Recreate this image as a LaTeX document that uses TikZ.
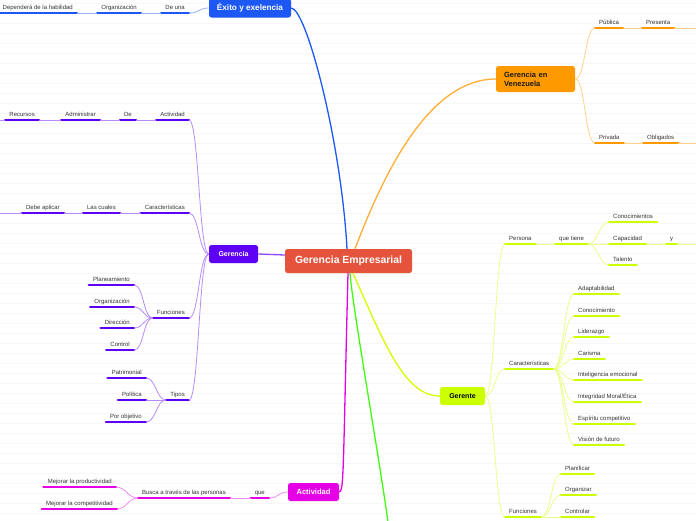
\documentclass[tikz,border=0pt]{standalone}
\usepackage{fontspec}
\setmainfont{Liberation Sans}
\usepackage{tikz}
\usetikzlibrary{positioning}
\usepackage{xcolor}
\definecolor{redmain}{HTML}{E5533C}
\definecolor{exblue}{HTML}{1D58F5}
\definecolor{gpurple}{HTML}{5E00F5}
\definecolor{actmag}{HTML}{E600E6}
\definecolor{venorange}{HTML}{FF9900}
\definecolor{gerlime}{HTML}{CCFF00}
\definecolor{lnkgreen}{HTML}{40FF10}
\definecolor{txtgray}{HTML}{333333}
\definecolor{rulegray}{HTML}{F7F7F7}

\begin{document}
\begin{tikzpicture}[x=1pt, y=-1pt,
    centerbox/.style={fill=redmain, text=white, rounded corners=2.5pt,
                minimum width=127pt, minimum height=24pt, inner sep=0pt,
                font=\bfseries\fontsize{10.4}{12}\selectfont},
    mainbox/.style={fill=#1, rounded corners=2.5pt, inner sep=0pt,
                font=\bfseries\fontsize{7.5}{9}\selectfont},
    topic/.style={font=\fontsize{6}{7}\selectfont, text=txtgray,
                inner xsep=4pt, inner ysep=2.6pt, text height=4.4pt, text depth=1.2pt,
                append after command={(\tikzlastnode.south west)
                  edge[line width=2.7pt, line cap=round, draw=#1] (\tikzlastnode.south east)}},
    mainlink/.style={line width=1.3pt, draw=#1},
    thinlink/.style={line width=0.8pt, draw=#1!45},
    lfork/.style={to path={.. controls +(-10,0) and +(10,0) .. (\tikztotarget)}},
    rfork/.style={to path={.. controls +(10,0) and +(-10,0) .. (\tikztotarget)}}
  ]

  \useasboundingbox (0,0) rectangle (696,520);
  \foreach \y in {3,13,...,513}
    \draw[rulegray, line width=0.6pt] (0,\y) -- (696,\y);

  %% ---- main boxes ----
  \node[centerbox] (core) at (348.5,261) {Gerencia Empresarial};
  \node[mainbox=exblue, text=white, minimum width=82pt, minimum height=19pt,
        font=\bfseries\fontsize{8.2}{9}\selectfont] (exito) at (250,8) {Éxito y exelencia};
  \node[mainbox=gpurple, text=white, minimum width=49pt, minimum height=18pt,
        font=\bfseries\fontsize{7}{8}\selectfont] (gerencia) at (233.5,254) {Gerencia};
  \node[mainbox=actmag, text=white, minimum width=51pt, minimum height=18pt] (actividad) at (313.5,492) {Actividad};
  \node[mainbox=venorange, text=black!90, minimum width=79pt, minimum height=26pt,
        text width=63pt, align=left] (venez) at (535.5,79) {Gerencia en\\Venezuela};
  \node[mainbox=gerlime, text=black, minimum width=45pt, minimum height=18pt,
        font=\bfseries\fontsize{7}{8}\selectfont] (gerente) at (462.5,396) {Gerente};
  \coordinate (greenend) at (388,522);

  \draw[mainlink=exblue] (exito.east) .. controls (306,8) and (341,140) .. ([xshift=-1.5pt]core.north);
  \draw[mainlink=venorange!80] ([xshift=6.5pt]core.north) .. controls (385,170) and (430,79) .. (venez.west);
  \draw[mainlink=gpurple!70] ([yshift=6pt]core.west) -- (gerencia.east);
  \draw[mainlink=actmag] ([xshift=-0.5pt]core.south) .. controls (343,470) and (344,492) .. (actividad.east);
  \draw[mainlink=lnkgreen] ([xshift=1.5pt]core.south) .. controls (353,310) and (378,450) .. (greenend);
  \draw[mainlink=gerlime!85!yellow] ([xshift=4.5pt]core.south) .. controls (385,345) and (405,396) .. (gerente.west);

  %% ---- Exito y exelencia ----
  \node[topic=exblue, anchor=south east] (deuna)   at (189,13) {De una};
  \node[topic=exblue, anchor=south east] (orgx)    at (141,13) {Organización};
  \node[topic=exblue, anchor=south east] (depende) at (77,13)  {Dependerá de la habilidad};

  \draw[thinlink=exblue] (exito.west) to[lfork] (deuna.south east);
  \draw[thinlink=exblue] (deuna.south west) -- (orgx.south east);
  \draw[thinlink=exblue] (orgx.south west) -- (depende.south east);

  %% ---- Gerencia ----
  \node[topic=gpurple, anchor=south east] (act)     at (189,120) {Actividad};
  \node[topic=gpurple, anchor=south east] (de)      at (136,120) {De};
  \node[topic=gpurple, anchor=south east] (adm)     at (100,120) {Administrar};
  \node[topic=gpurple, anchor=south east] (rec)     at (39,120)  {Recursos};
  \coordinate (recend) at (0,120);

  \node[topic=gpurple, anchor=south east] (car)     at (189,213) {Características};
  \node[topic=gpurple, anchor=south east] (lascual) at (120,213) {Las cuales};
  \node[topic=gpurple, anchor=south east] (debe)    at (64,213)  {Debe aplicar};
  \coordinate (debeend) at (0,213);

  \node[topic=gpurple, anchor=south east] (fun)     at (189,318) {Funciones};
  \node[topic=gpurple, anchor=south east] (plan)    at (134,285) {Planeamiento};
  \node[topic=gpurple, anchor=south east] (org)     at (134,307) {Organización};
  \node[topic=gpurple, anchor=south east] (dir)     at (134,328) {Dirección};
  \node[topic=gpurple, anchor=south east] (ctrl)    at (134,350) {Control};

  \node[topic=gpurple, anchor=south east] (tipos)   at (189,400) {Tipos};
  \node[topic=gpurple, anchor=south east] (patr)    at (146,378) {Patrimonial};
  \node[topic=gpurple, anchor=south east] (poli)    at (146,400) {Política};
  \node[topic=gpurple, anchor=south east] (porobj)  at (146,422) {Por objetivo};

  \draw[thinlink=gpurple] (gerencia.west) to[lfork] (act.south east);
  \draw[thinlink=gpurple] (gerencia.west) to[lfork] (car.south east);
  \draw[thinlink=gpurple] (gerencia.west) to[lfork] (fun.south east);
  \draw[thinlink=gpurple] (gerencia.west) to[lfork] (tipos.south east);
  \draw[thinlink=gpurple] (act.south west) -- (de.south east);
  \draw[thinlink=gpurple] (de.south west) -- (adm.south east);
  \draw[thinlink=gpurple] (adm.south west) -- (rec.south east);
  \draw[thinlink=gpurple] (rec.south west) -- (recend);
  \draw[thinlink=gpurple] (car.south west) -- (lascual.south east);
  \draw[thinlink=gpurple] (lascual.south west) -- (debe.south east);
  \draw[thinlink=gpurple] (debe.south west) -- (debeend);
  \draw[thinlink=gpurple] (fun.south west) to[lfork] (plan.south east);
  \draw[thinlink=gpurple] (fun.south west) to[lfork] (org.south east);
  \draw[thinlink=gpurple] (fun.south west) to[lfork] (dir.south east);
  \draw[thinlink=gpurple] (fun.south west) to[lfork] (ctrl.south east);
  \draw[thinlink=gpurple] (tipos.south west) to[lfork] (patr.south east);
  \draw[thinlink=gpurple] (tipos.south west) to[lfork] (poli.south east);
  \draw[thinlink=gpurple] (tipos.south west) to[lfork] (porobj.south east);

  %% ---- Actividad ----
  \node[topic=actmag, anchor=south east] (que)   at (269,498) {que};
  \node[topic=actmag, anchor=south east] (busca) at (230,498) {Busca a través de las personas};
  \node[topic=actmag, anchor=south east] (mprod) at (116,487) {Mejorar la productividad};
  \node[topic=actmag, anchor=south east] (mcomp) at (117,509) {Mejorar la competitividad};

  \draw[thinlink=actmag] (actividad.west) to[lfork] (que.south east);
  \draw[thinlink=actmag] (que.south west) -- (busca.south east);
  \draw[thinlink=actmag] (busca.south west) to[lfork] (mprod.south east);
  \draw[thinlink=actmag] (busca.south west) to[lfork] (mcomp.south east);

  %% ---- Gerencia en Venezuela ----
  \node[topic=venorange, anchor=south west] (pub)   at (595,28)  {Pública};
  \node[topic=venorange, anchor=south west] (pres)  at (642,28)  {Presenta};
  \node[topic=venorange, anchor=south west] (priv)  at (595,143) {Privada};
  \node[topic=venorange, anchor=south west] (oblig) at (643,143) {Obligados};
  \coordinate (presend)  at (696,28);
  \coordinate (obligend) at (696,143);

  \draw[thinlink=venorange] (venez.east) to[rfork] (pub.south west);
  \draw[thinlink=venorange] (venez.east) to[rfork] (priv.south west);
  \draw[thinlink=venorange] (pub.south east) -- (pres.south west);
  \draw[thinlink=venorange] (pres.south east) -- (presend);
  \draw[thinlink=venorange] (priv.south east) -- (oblig.south west);
  \draw[thinlink=venorange] (oblig.south east) -- (obligend);

  %% ---- Gerente ----
  \node[topic=gerlime, anchor=south west] (persona)  at (505,244) {Persona};
  \node[topic=gerlime, anchor=south west] (quetiene) at (555,244) {que tiene};
  \node[topic=gerlime, anchor=south west] (conoc)    at (609,222) {Conocimientos};
  \node[topic=gerlime, anchor=south west] (capac)    at (609,244) {Capacidad};
  \node[topic=gerlime, anchor=south west] (talento)  at (609,265) {Talento};
  \node[topic=gerlime, anchor=south west] (yy)       at (666,244) {y};
  \coordinate (yend) at (696,244);

  \node[topic=gerlime, anchor=south west] (carg)   at (505,369) {Características};
  \node[topic=gerlime, anchor=south west] (adapt)  at (574,294) {Adaptabilidad};
  \node[topic=gerlime, anchor=south west] (conoc2) at (574,316) {Conocimiento};
  \node[topic=gerlime, anchor=south west] (lider)  at (574,337) {Liderazgo};
  \node[topic=gerlime, anchor=south west] (caris)  at (574,359) {Carisma};
  \node[topic=gerlime, anchor=south west] (intel)  at (574,380) {Inteligencia emocional};
  \node[topic=gerlime, anchor=south west] (integ)  at (574,402) {Integridad Moral/Ética};
  \node[topic=gerlime, anchor=south west] (espir)  at (574,424) {Espíritu competitivo};
  \node[topic=gerlime, anchor=south west] (vision) at (574,445) {Visión de futuro};

  \node[topic=gerlime, anchor=south west] (fung)    at (505,517) {Funciones};
  \node[topic=gerlime, anchor=south west] (planif)  at (561,474) {Planificar};
  \node[topic=gerlime, anchor=south west] (organiz) at (561,495) {Organizar};
  \node[topic=gerlime, anchor=south west] (contr)   at (561,517) {Controlar};

  \draw[thinlink=gerlime] (gerente.east) to[rfork] (persona.south west);
  \draw[thinlink=gerlime] (gerente.east) to[rfork] (carg.south west);
  \draw[thinlink=gerlime] (gerente.east) to[rfork] (fung.south west);
  \draw[thinlink=gerlime] (persona.south east) -- (quetiene.south west);
  \draw[thinlink=gerlime] (quetiene.south east) to[rfork] (conoc.south west);
  \draw[thinlink=gerlime] (quetiene.south east) to[rfork] (capac.south west);
  \draw[thinlink=gerlime] (quetiene.south east) to[rfork] (talento.south west);
  \draw[thinlink=gerlime] (capac.south east) -- (yy.south west);
  \draw[thinlink=gerlime] (yy.south east) -- (yend);
  \foreach \n in {adapt,conoc2,lider,caris,intel,integ,espir,vision}
    \draw[thinlink=gerlime] (carg.south east) to[rfork] (\n.south west);
  \foreach \n in {planif,organiz,contr}
    \draw[thinlink=gerlime] (fung.south east) to[rfork] (\n.south west);

\end{tikzpicture}
\end{document}
